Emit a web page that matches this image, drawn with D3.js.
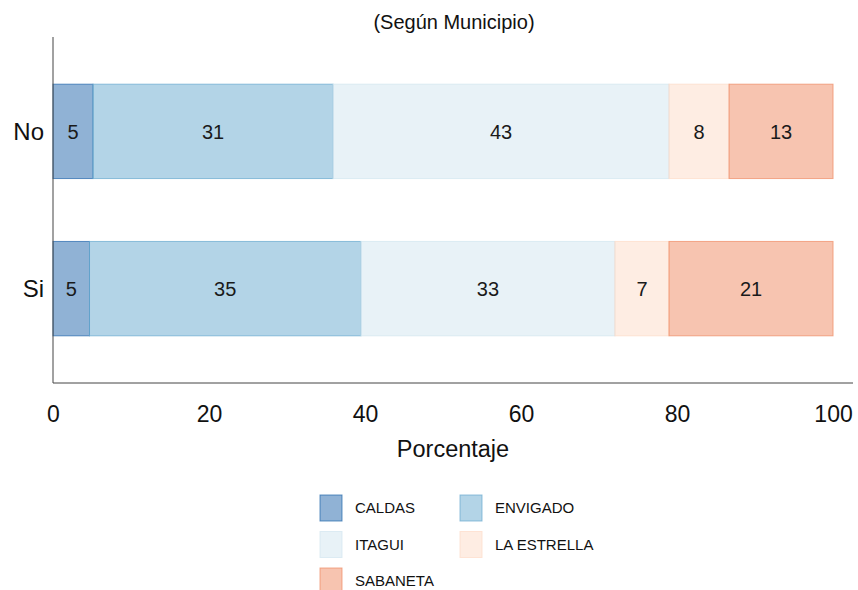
<!DOCTYPE html>
<html><head><meta charset="utf-8">
<script src="https://cdn.jsdelivr.net/npm/d3@7"></script>
<style>body{margin:0;background:#fff;font-family:"Liberation Sans",Arial,sans-serif;}</style>
</head><body><svg id="c" width="858" height="590"></svg>
<script>
const categories = ["No", "Si"];
const municipios = ["CALDAS", "ENVIGADO", "ITAGUI", "LA ESTRELLA", "SABANETA"];
const valuesNo = [5.13, 30.77, 43.07, 7.70, 13.33];
const valuesSi = [4.68, 34.80, 32.56, 6.93, 21.03];
const colors = ["#2166ac", "#67a9cf", "#d1e5f0", "#fddbc7", "#ef8a62"];
const xTicks = [0, 20, 40, 60, 80, 100];
const title = "(Según Municipio)";
const xTitle = "Porcentaje";

(function () {
const svg = d3.select("#c");
const pLeft = 53, pRight = 853, pTop = 37, pBottom = 383;
const x = d3.scaleLinear().domain([0, 102.56]).range([pLeft, pRight]);
const yPos = d3.scaleLinear().domain([0.4, 2.6]).range([pTop, pBottom]);
const barH = yPos(1.3) - yPos(1);

const data = [valuesNo, valuesSi];
const font = "'Liberation Sans', Arial, sans-serif";

svg.append("text").attr("x", 454).attr("y", 29).attr("text-anchor", "middle")
  .attr("font-family", font).attr("font-size", 20).attr("fill", "#111").text(title);

categories.forEach((cat, i) => {
  const cy = yPos(i + 1);
  let acc = 0;
  data[i].forEach((v, j) => {
    const x0 = x(acc), x1 = x(acc + v);
    svg.append("rect").attr("x", x0).attr("y", cy - barH).attr("width", x1 - x0).attr("height", barH * 2)
      .attr("fill", colors[j]).attr("fill-opacity", 0.5)
      .attr("stroke", colors[j]).attr("stroke-opacity", 0.7).attr("stroke-width", 1);
    svg.append("text").attr("x", (x0 + x1) / 2).attr("y", cy).attr("dy", "0.37em")
      .attr("text-anchor", "middle").attr("font-family", font).attr("font-size", 20)
      .attr("fill", "#1a1a1a").text(Math.round(v));
    acc += v;
  });
  svg.append("text").attr("x", 44).attr("y", cy).attr("dy", "0.36em").attr("text-anchor", "end")
    .attr("font-family", font).attr("font-size", 24).attr("fill", "#111").text(cat);
});

svg.append("line").attr("x1", pLeft).attr("x2", pLeft).attr("y1", pTop).attr("y2", pBottom)
  .attr("stroke", "#444").attr("stroke-width", 1);
svg.append("line").attr("x1", pLeft).attr("x2", pRight).attr("y1", pBottom).attr("y2", pBottom)
  .attr("stroke", "#444").attr("stroke-width", 1);

const xAxis = d3.axisBottom(x).tickValues(xTicks).tickSize(0).tickPadding(23);
const gx = svg.append("g").attr("transform", `translate(0,${pBottom})`).call(xAxis);
gx.select(".domain").remove();
gx.selectAll("text").attr("font-family", font).attr("font-size", 23).attr("fill", "#111");

svg.append("text").attr("x", 453).attr("y", 457).attr("text-anchor", "middle")
  .attr("font-family", font).attr("font-size", 23.5).attr("fill", "#111").text(xTitle);

const legX = [320, 460], legY0 = 495, legDy = 36.5;
municipios.forEach((m, j) => {
  const col = j % 2, row = Math.floor(j / 2);
  const lx = legX[col], ly = legY0 + row * legDy;
  svg.append("rect").attr("x", lx).attr("y", ly).attr("width", 22).attr("height", 26)
    .attr("fill", colors[j]).attr("fill-opacity", 0.5)
    .attr("stroke", colors[j]).attr("stroke-opacity", 0.7).attr("stroke-width", 1);
  svg.append("text").attr("x", lx + 35).attr("y", ly + 13).attr("dy", "0.36em")
    .attr("font-family", font).attr("font-size", 15).attr("fill", "#111").text(m);
});
})();
</script></body></html>
